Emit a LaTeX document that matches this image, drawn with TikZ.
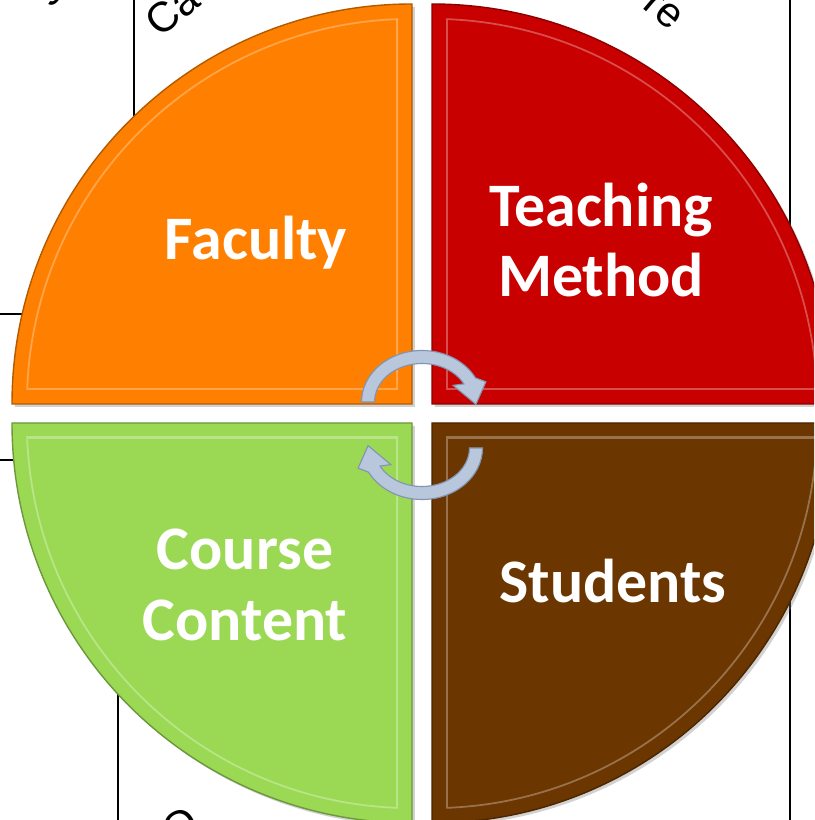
\documentclass[tikz,border=0pt]{standalone}
\usepackage{fontspec}
\setmainfont{Carlito}
\newfontfamily\bgfont{Liberation Sans}
\usetikzlibrary{shadows}

\definecolor{faccol}{RGB}{255,128,0}
\definecolor{teachcol}{RGB}{200,0,0}
\definecolor{coursecol}{RGB}{155,217,85}
\definecolor{studcol}{RGB}{107,54,0}
\definecolor{turnfill}{RGB}{185,199,220}
\definecolor{turnline}{RGB}{130,148,178}

\tikzset{
  qlabel/.style={text=white,font=\bfseries\fontsize{44}{50}\selectfont,align=center},
  frag/.style={font=\bgfont\fontsize{30}{30}\selectfont},
  rim/.style={line width=2.5pt,white,opacity=.3},
  turn/.style={fill=turnfill,draw=turnline,line width=.8pt},
  turnarrow/.pic={
    \filldraw[turn] (180:60.5 and 51.5) arc[start angle=180,end angle=28,x radius=60.5,y radius=51.5]
      -- (20:68 and 59) -- (-3:54 and 45) -- (35:38 and 29)
      -- (28:47.5 and 38.5) arc[start angle=28,end angle=180,x radius=47.5,y radius=38.5] -- cycle;
  }
}

\begin{document}
\begin{tikzpicture}[x=0.025cm,y=0.025cm]
  \clip (0,0) rectangle (814,820);
  \fill[white] (0,0) rectangle (814,820);

  \draw[line width=1.2pt] (134,820) -- (134,600) (790,820) -- (790,585) (790,0) -- (790,235)
    (118,0) -- (118,200) (0,506) -- (60,506) (0,360) -- (60,360);

  \node(CA)[frag,rotate=40,anchor=base west] at (157,778) {Ca};
  \node(RE)[frag,rotate=-40,anchor=base east] at (674,785) {re};
  \node(G)[frag,rotate=50,anchor=base] at (52,824) {g};
  \node(O)[frag,rotate=30,anchor=north] at (170,12) {O};

  \foreach \cx/\cy/\sx/\sy/\a/\col in {412/416/-1/1/90/faccol,432/416/1/1/0/teachcol,
      412/397/-1/-1/180/coursecol,432/397/1/-1/270/studcol}{
    \fill[\col,drop shadow={shadow xshift=2pt,shadow yshift=-2pt,opacity=.35}]
      (\cx,\cy) -- ++(\a:400) arc[start angle=\a,end angle=\a+90,radius=400] -- cycle;
    \begin{scope}
      \clip (\cx,\cy) circle[radius=386];
      \clip (\cx+\sx*14,\cy+\sy*14) rectangle ++(\sx*500,\sy*500);
      \draw[rim] (\cx,\cy) circle[radius=386] (\cx+\sx*14,\cy+\sy*14) rectangle ++(\sx*500,\sy*500);
    \end{scope}
    \draw[\col!70!black,line width=1pt]
      (\cx,\cy) -- ++(\a:400) arc[start angle=\a,end angle=\a+90,radius=400] -- cycle;
  }

  \node(FAC)[qlabel,anchor=base] at (256,560) {Faculty};
  \node(TM)[qlabel] at (601,580) {Teaching\\Method};
  \node(CC)[qlabel] at (245,235) {Course\\Content};
  \node(ST)[qlabel,anchor=base] at (613,217) {Students};

  \pic(UP) at (422,418) {turnarrow};
  \pic(DN)[rotate=180] at (422,372) {turnarrow};
\end{tikzpicture}
\end{document}
